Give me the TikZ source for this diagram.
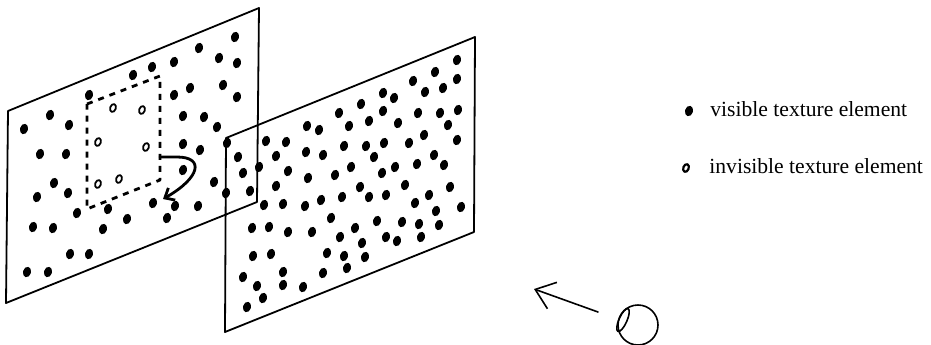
\documentclass[tikz,border=0pt]{standalone}
\usepackage{fontspec}
\setmainfont{Liberation Serif}
\usetikzlibrary{arrows.meta}

\begin{document}
\begin{tikzpicture}[x=0.5pt,y=-0.5pt,line cap=round,line join=round,
  plane/.style={line width=0.9pt},
  spot/.style={x radius=4,y radius=5.3,rotate=-15},
  hole/.style={x radius=2.8,y radius=4.1,rotate=-20},
  legendtext/.style={anchor=base west,inner sep=0pt,font=\fontsize{10.8}{13}\selectfont}]
  \useasboundingbox (0,0) rectangle (931,344);
  \coordinate (A1) at (8,111);
  \coordinate (A2) at (259,8);
  \coordinate (A3) at (257,202);
  \coordinate (A4) at (6,303);
  \coordinate (B1) at (226,138);
  \coordinate (B2) at (475,37);
  \coordinate (B3) at (474,232);
  \coordinate (B4) at (225,332);
  \coordinate (D1) at (87,104);
  \coordinate (D2) at (160,76);
  \coordinate (D3) at (160,180);
  \coordinate (D4) at (87,209);
  \draw[plane] (A1) -- (A2) -- (A3) -- (A4) -- cycle;
  \draw[plane] (B1) -- (B2) -- (B3) -- (B4) -- cycle;
  \draw[line width=1.4pt,line cap=butt,dash pattern=on 3pt off 3pt] (D1) -- (D2) -- (D3) -- (D4) -- cycle;
  \foreach \x/\y in {235/37,199/48,219/58,237/63,152/67,133/75,174/62,190/88,174/95,223/85,
    237/97,89/95,50/115,69/125,24/129,183/116,204/117,217/127,40/154,66/154,183/144,200/150,
    54/183,37/197,68/193,183/170,214/182,153/203,175/206,198/206,77/213,108/209,127/219,
    167/218,33/227,53/228,103/229,70/254,89/254,27/272,48/272}
    \fill (\x,\y) circle [spot];
  \foreach \x/\y in {457/60,435/72,457/79,413/81,443/88,425/92,383/93,394/98,361/104,339/113,
    383/111,418/113,440/113,458/110,369/121,398/123,448/125,349/126,307/126,319/130,424/135,
    457/140,384/143,409/143,366/146,344/146,266/141,286/142,227/143,306/152,323/155,276/156,
    238/157,374/157,434/155,444/165,417/164,395/167,382/173,351/167,335/175,308/178,288/171,
    259/167,243/173,276/186,226/193,250/191,360/187,405/185,450/187,369/197,386/195,429/195,
    342/197,321/200,305/206,283/204,264/205,415/203,436/211,461/207,331/218,377/221,402/222,
    419/224,439/225,355/228,252/228,269/227,288/232,312/232,340/237,386/237,397/241,421/237,
    362/243,253/256,271/254,327/253,344/256,365/257,347/268,243/277,283/272,323/273,257/286,
    283/285,303/287,263/298,247/307}
    \fill (\x,\y) circle [spot];
  \foreach \x/\y in {113/108,142/110,98/142,146/147,98/184,119/179}
    \draw[line width=0.9pt] (\x,\y) circle [hole];
  \coordinate (turn) at (160,157);
  \coordinate (land) at (163,199);
  \draw[line width=1.4pt,-{Straight Barb[length=4pt,width=7pt]}] (turn) -- (177,157)
    .. controls (205,157) and (200,178) .. (land);
  \fill (689,111) circle [spot];
  \node[legendtext] (vis) at (710,116) {visible texture element};
  \draw[line width=1.1pt] (686,168) circle [x radius=2.7,y radius=4,rotate=-20];
  \node[legendtext] (invis) at (709,173) {invisible texture element};
  \draw[line width=0.8pt] (638,325) circle (20);
  \draw[line width=0.8pt] (623,320) circle [x radius=12.5,y radius=4,rotate=66];
  \coordinate (gaze) at (598,312);
  \coordinate (look) at (534,289);
  \draw[line width=0.8pt,-{Straight Barb[length=9pt,width=14pt]}] (gaze) -- (look);
\end{tikzpicture}
\end{document}
